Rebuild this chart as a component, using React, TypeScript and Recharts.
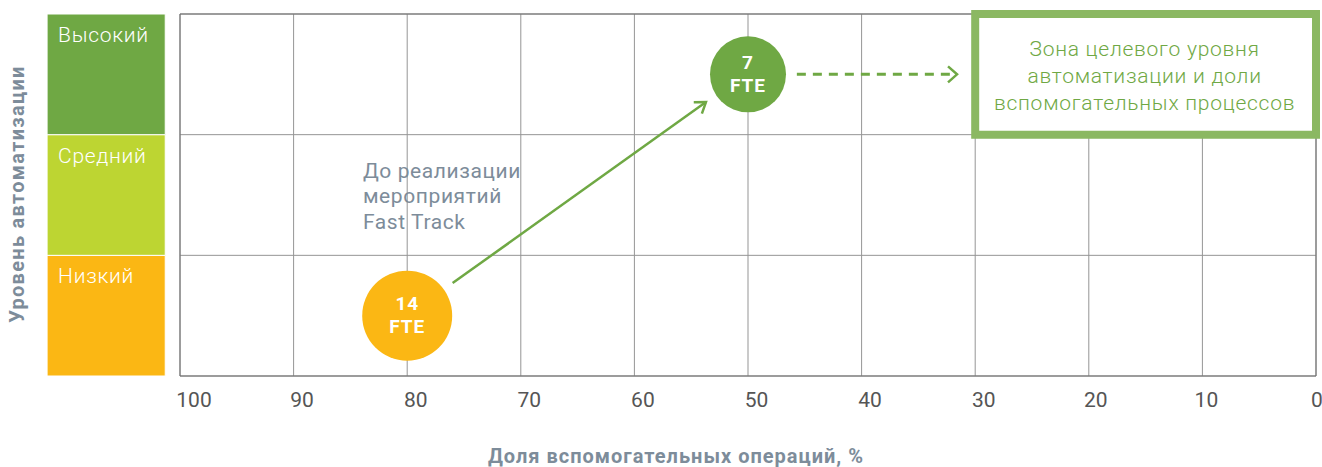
import React from "react";
import {
  ScatterChart,
  Scatter,
  XAxis,
  YAxis,
  CartesianGrid,
  ReferenceArea,
  ReferenceLine,
  ReferenceDot,
} from "recharts";

// share of auxiliary operations, %
const xTicks = [100, 90, 80, 70, 60, 50, 40, 30, 20, 10, 0];
const yTicks = [0, 1, 2, 3];

const levels = [
  { name: "Низкий", y1: 0, y2: 1, color: "#fbb714" },
  { name: "Средний", y1: 1, y2: 2, color: "#bdd532" },
  { name: "Высокий", y1: 2, y2: 3, color: "#6fa844" },
];

const points = [
  { x: 80, y: 0.5, fte: 14, color: "#fbb714", r: 45 },
  { x: 50, y: 2.5, fte: 7, color: "#6fa844", r: 38 },
];

const moveArrow = [
  { x: 76, y: 0.77 },
  { x: 53.7, y: 2.27 },
];
const targetArrow = [
  { x: 45.7, y: 2.5 },
  { x: 31.6, y: 2.5 },
];

const targetZone = { x1: 30, x2: 0, y1: 2, y2: 3 };
const targetLines = [
  "Зона целевого уровня",
  "автоматизации и доли",
  "вспомогательных процессов",
];
const beforeLines = ["До реализации", "мероприятий", "Fast Track"];
const beforePos = { x: 83.9, y: 1.7 };

const xTitle = "Доля вспомогательных операций, %";
const yTitle = "Уровень автоматизации";

const GREEN = "#6fa844";
const GREY_TXT = "#7d8c9a";
const FONT = "Roboto, sans-serif";

// tick labels sit a little to the right of their grid lines in the original
const tickShift: Record<number, number> = { 100: 14, 20: 7, 10: 4, 0: 1 };

const renderTick = (props: any) => {
  const { x, y, payload } = props;
  const dx = tickShift[payload.value] ?? 8.5;
  return (
    <text
      x={x + dx}
      y={y}
      dy="0.71em"
      textAnchor="middle"
      fill="#555"
      fontSize={21}
      fontFamily={FONT}
    >
      {payload.value}
    </text>
  );
};

const renderPoint = (props: any) => {
  const { cx, cy, payload } = props;
  return (
    <g>
      <circle cx={cx} cy={cy} r={payload.r} fill={payload.color} />
      <text
        textAnchor="middle"
        fill="#fff"
        fontSize={19}
        fontWeight={700}
        fontFamily={FONT}
        letterSpacing={0.9}
      >
        <tspan x={cx} y={cy - 12} dominantBaseline="central">
          {payload.fte}
        </tspan>
        <tspan x={cx} y={cy + 11} dominantBaseline="central">
          FTE
        </tspan>
      </text>
    </g>
  );
};

const levelLabel = (name: string) => (props: any) => {
  const { viewBox } = props;
  return (
    <text
      x={viewBox.x + 11}
      y={viewBox.y + 28}
      fill="#fff"
      fontSize={21}
      fontWeight={300}
      letterSpacing={0.7}
      fontFamily={FONT}
    >
      {name}
    </text>
  );
};

const zoneLabel = (props: any) => {
  const { viewBox } = props;
  const cx = viewBox.x + viewBox.width / 2 - 1;
  const cy = viewBox.y + viewBox.height / 2 + 2;
  return (
    <text
      textAnchor="middle"
      fill={GREEN}
      fontSize={21}
      fontWeight={300}
      letterSpacing={0.75}
      fontFamily={FONT}
    >
      {targetLines.map((t, i) => (
        <tspan key={i} x={cx} y={cy + (i - 1) * 27} dominantBaseline="central">
          {t}
        </tspan>
      ))}
    </text>
  );
};

const beforeLabel = (props: any) => {
  const { viewBox } = props;
  return (
    <text fill={GREY_TXT} fontSize={21} letterSpacing={0.6} fontFamily={FONT}>
      {beforeLines.map((t, i) => (
        <tspan
          key={i}
          x={viewBox.x}
          y={viewBox.y + i * 25.5}
          dominantBaseline="central"
        >
          {t}
        </tspan>
      ))}
    </text>
  );
};

const yTitleLabel = (props: any) => {
  const { viewBox } = props;
  const x = viewBox.x + 17;
  const y = viewBox.y + viewBox.height / 2 - 1;
  return (
    <text
      x={x}
      y={y}
      transform={`rotate(-90, ${x}, ${y})`}
      textAnchor="middle"
      dominantBaseline="central"
      fill={GREY_TXT}
      fontSize={20}
      fontWeight={700}
      letterSpacing={1.3}
      fontFamily={FONT}
    >
      {yTitle}
    </text>
  );
};

const xTitleLabel = (props: any) => {
  const { viewBox } = props;
  return (
    <text
      x={676}
      y={viewBox.y + 80}
      textAnchor="middle"
      dominantBaseline="central"
      fill={GREY_TXT}
      fontSize={20}
      fontWeight={700}
      letterSpacing={1}
      fontFamily={FONT}
    >
      {xTitle}
    </text>
  );
};

export default function App() {
  return (
    <div style={{ position: "absolute", left: 0, top: 0, background: "#fff" }}>
      <ScatterChart
        width={1322}
        height={467}
        margin={{ top: 14, right: 6, bottom: 0, left: 0 }}
      >
        <defs>
          <marker
            id="arrowSolid"
            markerWidth={18}
            markerHeight={18}
            refX={13}
            refY={9}
            orient="auto"
            markerUnits="userSpaceOnUse"
          >
            <path d="M3,2 L13,9 L3,16" fill="none" stroke={GREEN} strokeWidth={2.5} />
          </marker>
          <marker
            id="arrowDash"
            markerWidth={18}
            markerHeight={20}
            refX={13}
            refY={10}
            orient="auto"
            markerUnits="userSpaceOnUse"
          >
            <path d="M4,2 L13,10 L4,18" fill="none" stroke={GREEN} strokeWidth={2.5} />
          </marker>
        </defs>
        <CartesianGrid stroke="#959595" strokeWidth={1} />
        <XAxis
          type="number"
          dataKey="x"
          domain={[0, 100]}
          reversed
          ticks={xTicks}
          interval={0}
          height={91}
          tickLine={false}
          axisLine={false}
          tickSize={0}
          tickMargin={16}
          tick={renderTick}
          label={xTitleLabel}
        />
        <YAxis
          type="number"
          dataKey="y"
          domain={[0, 3]}
          ticks={yTicks}
          interval={0}
          width={180}
          tick={() => <g />}
          tickLine={false}
          axisLine={false}
          label={yTitleLabel}
        />
        {levels.map((l) => (
          <ReferenceArea
            key={l.name}
            x1={111.7}
            x2={101.3}
            y1={l.y1}
            y2={l.y2}
            fill={l.color}
            fillOpacity={1}
            stroke="#fff"
            strokeWidth={1}
            ifOverflow="visible"
            label={levelLabel(l.name)}
          />
        ))}
        <ReferenceArea
          x1={100}
          x2={0}
          y1={0}
          y2={3}
          fill="none"
          stroke="#6e6e6e"
          strokeWidth={1}
          ifOverflow="visible"
        />
        <ReferenceArea
          x1={targetZone.x1}
          x2={targetZone.x2}
          y1={targetZone.y1}
          y2={targetZone.y2}
          fill="#fff"
          fillOpacity={1}
          stroke="#8bb862"
          strokeWidth={8}
          ifOverflow="visible"
          label={zoneLabel}
        />
        <ReferenceLine
          segment={moveArrow}
          stroke={GREEN}
          strokeWidth={2.5}
          markerEnd="url(#arrowSolid)"
          ifOverflow="visible"
        />
        <ReferenceLine
          segment={targetArrow}
          stroke={GREEN}
          strokeWidth={3}
          strokeDasharray="9 7"
          markerEnd="url(#arrowDash)"
          ifOverflow="visible"
        />
        <ReferenceDot
          x={beforePos.x}
          y={beforePos.y}
          r={0}
          fill="none"
          stroke="none"
          ifOverflow="visible"
          label={beforeLabel}
        />
        <Scatter data={points} shape={renderPoint} isAnimationActive={false} />
      </ScatterChart>
    </div>
  );
}
